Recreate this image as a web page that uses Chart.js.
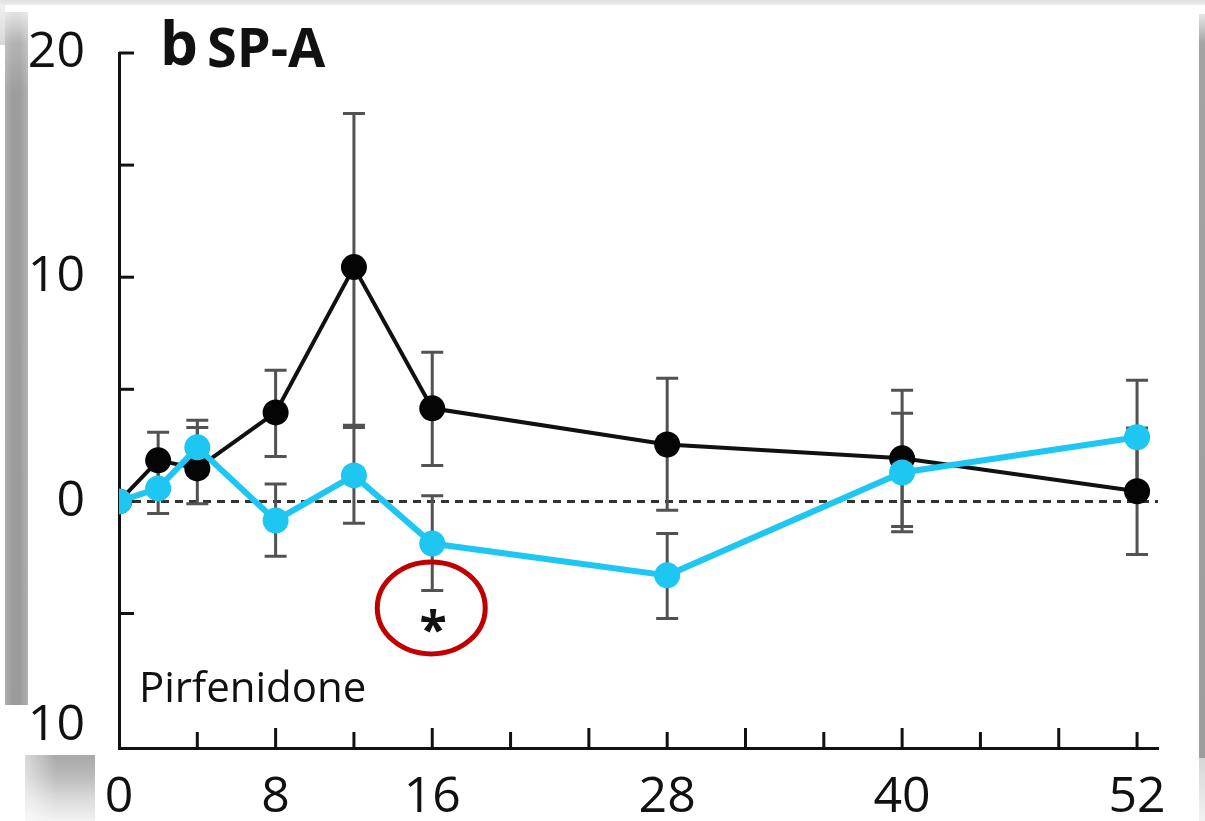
<!DOCTYPE html>
<html>
<head>
<meta charset="utf-8">
<script src="https://cdn.jsdelivr.net/npm/chart.js@4.4.1/dist/chart.umd.min.js"></script>
<style>
  html, body { margin: 0; padding: 0; background: #fff; width: 1205px; height: 821px; overflow: hidden; }
  body { position: relative; }
  .edge { position: absolute; }
  #edgeTop { left: 0; top: 0; width: 1205px; height: 5px; background: linear-gradient(#e0e0e0, #eeeeee); }
  #edgeLeft { left: 5px; top: 12px; width: 23px; height: 693px;
    background: linear-gradient(to right, rgba(255,255,255,0.18), rgba(255,255,255,0) 35%, rgba(255,255,255,0) 65%, rgba(255,255,255,0.22)),
                linear-gradient(to bottom, #e4e4e4 0px, #b4b4b4 30px, #9d9d9d 80px, #9b9b9b 100%); }
  #edgeCornerTL { left: 0; top: 5px; width: 5px; height: 40px; background: linear-gradient(#f0f0f0, #d8d8d8); }
  #edgeBottomLeft { left: 25px; top: 755px; width: 70px; height: 66px;
    background: linear-gradient(to right, rgba(255,255,255,0.55), rgba(255,255,255,0) 45%),
                linear-gradient(to bottom, #a9a9a9 0px, #b9b9b9 20px, #dcdcdc 45px, #f2f2f2 66px); }
  #edgeRight { left: 1199px; top: 14px; width: 6px; height: 744px;
    background: linear-gradient(to bottom, #e6e6e6 0px, #a3a3a3 30px, #9d9d9d 100%); }
  #edgeRightLow { left: 1199px; top: 758px; width: 6px; height: 63px; background: linear-gradient(#d6d6d6, #f2f2f2); }
  #plot { position: absolute; left: 0; top: 0; }
</style>
</head>
<body>
<div class="edge" id="edgeTop"></div>
<div class="edge" id="edgeCornerTL"></div>
<div class="edge" id="edgeLeft"></div>
<div class="edge" id="edgeBottomLeft"></div>
<div class="edge" id="edgeRight"></div>
<div class="edge" id="edgeRightLow"></div>
<canvas id="plot" width="1205" height="821"></canvas>
<script>
// Weeks of follow-up
const weeks = [0, 2, 4, 8, 12, 16, 28, 40, 52];

// Black series: mean change and error-bar bounds
const blackMean = [0, 1.83, 1.47, 3.97, 10.45, 4.15, 2.54, 1.92, 0.45];
const blackHigh = [0, 3.08, 3.30, 5.85, 17.30, 6.65, 5.49, 4.96, 3.27];
const blackLow  = [0, 0.58, -0.10, 2.00, 3.40, 1.60, -0.40, -1.12, -2.37];

// Cyan series: mean change and error-bar bounds
const cyanMean = [0, 0.58, 2.41, -0.85, 1.16, -1.88, -3.30, 1.29, 2.86];
const cyanHigh = [0, 1.70, 3.62, 0.78, 3.30, 0.25, -1.43, 3.93, 5.40];
const cyanLow  = [0, -0.54, 1.20, -2.45, -0.98, -3.98, -5.22, -1.35, 0.32];

// Axis ticks and labels
const xTickValues = [0, 4, 8, 12, 16, 20, 24, 28, 32, 36, 40, 44, 48, 52];
const xLabelValues = [0, 8, 16, 28, 40, 52];
const yTickValues = [20, 15, 10, 5, 0, -5, -10];
const yTickLabels = { '20': '20', '10': '10', '0': '0', '-10': '10' };

// Significance marker
const starWeek = 16;
const starValue = -5.35;
const ringValue = -4.75;

const FONT = '"Open Sans", "Noto Sans", sans-serif';
const CYAN = '#1ec6f2';
const INK = '#111111';

const toPoints = (means) => weeks.map((w, i) => ({ x: w, y: means[i] }));

const errorBars = {
  id: 'errorBars',
  beforeDatasetsDraw(chart) {
    const { ctx, scales: { x, y }, chartArea } = chart;
    ctx.save();
    // dashed zero reference line
    ctx.strokeStyle = '#333333';
    ctx.lineWidth = 3;
    ctx.setLineDash([8, 6]);
    const y0 = y.getPixelForValue(0);
    ctx.beginPath();
    ctx.moveTo(chartArea.left, y0);
    ctx.lineTo(chartArea.right, y0);
    ctx.stroke();
    ctx.setLineDash([]);

    // inward tick marks on both axes
    ctx.strokeStyle = INK;
    ctx.lineWidth = 3;
    xTickValues.forEach(v => {
      if (v === 0) return;
      const px = x.getPixelForValue(v);
      const len = v % 8 === 0 ? 20 : 16;
      ctx.beginPath();
      ctx.moveTo(px, chartArea.bottom);
      ctx.lineTo(px, chartArea.bottom - len);
      ctx.stroke();
    });
    yTickValues.forEach(v => {
      if (v <= -10) return;
      const py = y.getPixelForValue(v);
      ctx.beginPath();
      ctx.moveTo(chartArea.left, py);
      ctx.lineTo(chartArea.left + 15, py);
      ctx.stroke();
    });

    // error bars
    chart.data.datasets.forEach(ds => {
      ctx.strokeStyle = '#525252';
      ctx.lineWidth = 3;
      weeks.forEach((w, i) => {
        const hi = ds.errHigh[i], lo = ds.errLow[i];
        if (hi === lo) return;
        const px = x.getPixelForValue(w);
        const pHi = y.getPixelForValue(hi);
        const pLo = y.getPixelForValue(lo);
        ctx.beginPath();
        ctx.moveTo(px, pHi); ctx.lineTo(px, pLo);
        ctx.moveTo(px - 11, pHi); ctx.lineTo(px + 11, pHi);
        ctx.moveTo(px - 11, pLo); ctx.lineTo(px + 11, pLo);
        ctx.stroke();
      });
    });
    ctx.restore();
  },
  afterDraw(chart) {
    const { ctx, scales: { x, y }, chartArea } = chart;
    ctx.save();
    // panel title
    ctx.fillStyle = INK;
    ctx.textBaseline = 'alphabetic';
    ctx.textAlign = 'left';
    ctx.font = 'bold 60px ' + FONT;
    ctx.fillText('b', 160, 65);
    ctx.font = 'bold 54px ' + FONT;
    ctx.fillText('SP-A', 207, 67);

    // group label
    ctx.font = '42px ' + FONT;
    ctx.fillText('Pirfenidone', chartArea.left + 20, 702);

    // significance star and highlight ring
    const sx = x.getPixelForValue(starWeek);
    ctx.textAlign = 'center';
    ctx.font = 'bold 50px ' + FONT;
    ctx.fillText('*', sx + 1, y.getPixelForValue(starValue) + 26);
    ctx.strokeStyle = '#c00000';
    ctx.lineWidth = 5;
    ctx.beginPath();
    ctx.ellipse(sx - 1, y.getPixelForValue(ringValue), 54, 46, 0, 0, Math.PI * 2);
    ctx.stroke();
    ctx.restore();
  }
};

new Chart(document.getElementById('plot'), {
  type: 'line',
  data: {
    datasets: [
      {
        label: 'Pirfenidone',
        data: toPoints(cyanMean),
        errHigh: cyanHigh,
        errLow: cyanLow,
        borderColor: CYAN,
        backgroundColor: CYAN,
        borderWidth: 6,
        pointRadius: 13,
        pointBorderWidth: 0,
        tension: 0
      },
      {
        label: 'Comparator',
        data: toPoints(blackMean),
        errHigh: blackHigh,
        errLow: blackLow,
        borderColor: INK,
        backgroundColor: '#050505',
        borderWidth: 4,
        pointRadius: 13,
        pointBorderWidth: 0,
        tension: 0
      }
    ]
  },
  options: {
    responsive: false,
    animation: false,
    events: [],
    layout: { padding: { top: 53, right: 47, left: 0, bottom: 0 } },
    plugins: { legend: { display: false }, tooltip: { enabled: false } },
    scales: {
      x: {
        type: 'linear',
        min: 0,
        max: 53.07,
        afterBuildTicks: s => { s.ticks = xTickValues.map(v => ({ value: v })); },
        afterFit: s => { s.height = 73; s.paddingLeft = 0; s.paddingRight = 0; },
        grid: { display: false, drawTicks: false },
        border: { display: true, color: INK, width: 3 },
        ticks: {
          autoSkip: false,
          maxRotation: 0,
          padding: 20,
          color: INK,
          font: { family: FONT, size: 50 },
          callback: v => xLabelValues.includes(v) ? String(v) : ''
        }
      },
      y: {
        type: 'linear',
        min: -11,
        max: 20,
        afterBuildTicks: s => { s.ticks = yTickValues.map(v => ({ value: v })); },
        afterFit: s => { s.width = 119; s.paddingTop = 0; s.paddingBottom = 0; },
        grid: { display: false, drawTicks: false },
        border: { display: true, color: INK, width: 3 },
        ticks: {
          autoSkip: false,
          padding: 34,
          color: INK,
          font: { family: FONT, size: 50 },
          callback: v => yTickLabels[String(v)] ?? ''
        }
      }
    }
  },
  plugins: [errorBars]
});
</script>
</body>
</html>
